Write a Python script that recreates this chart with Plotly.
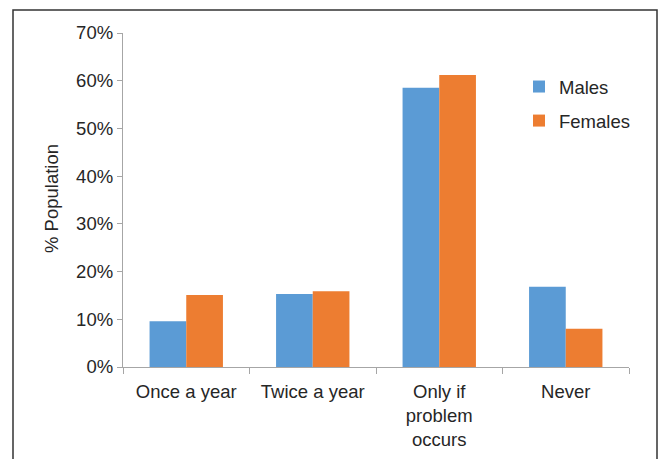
import plotly.graph_objects as go

# Survey: how often people get a check-up, by sex
categories = ["Once a year", "Twice a year", "Only if<br>problem<br>occurs", "Never"]
males = [9.6, 15.3, 58.5, 16.8]
females = [15.1, 15.9, 61.2, 8.0]
y_ticks = [0, 10, 20, 30, 40, 50, 60, 70]
y_tick_text = [f"{v}%" for v in y_ticks]

BLUE = "#5B9BD5"
ORANGE = "#ED7D31"
TEXT = "#262626"
AXIS = "#A6A6A6"
FONT = "Liberation Sans, Arial, sans-serif"
FS = 18.5

fig = go.Figure()
fig.add_trace(go.Bar(name="Males", x=categories, y=males, marker_color=BLUE,
                     marker_line_width=0, legendgroup="m"))
fig.add_trace(go.Bar(name="Females", x=categories, y=females, marker_color=ORANGE,
                     marker_line_width=0, legendgroup="f"))

W, H = 659, 459
L, R, T, B = 123, 30, 33, 92
pw, ph = W - L - R, H - T - B


def px_x(x):
    return (x - L) / pw


def px_y(y):
    return (H - B - y) / ph


fig.update_layout(
    width=W, height=H,
    margin=dict(l=L, r=R, t=T, b=B, autoexpand=False),
    paper_bgcolor="white", plot_bgcolor="white",
    barmode="group", bargap=0.42, bargroupgap=0,
    font=dict(family=FONT, size=FS, color=TEXT),
    showlegend=True,
    legend=dict(x=px_x(519), y=px_y(68), xanchor="left", yanchor="top",
                font=dict(size=FS, color=TEXT), itemwidth=30,
                tracegroupgap=7, bgcolor="rgba(0,0,0,0)"),
    xaxis=dict(range=[-0.5, 3.5], showline=True, linecolor=AXIS, linewidth=1.3,
               ticks="outside", tickson="boundaries", ticklen=6, tickcolor=AXIS,
               tickwidth=1.3, showgrid=False, zeroline=False,
               ticklabelstandoff=8,
               tickfont=dict(size=FS, color=TEXT)),
    yaxis=dict(range=[0, 70], tickvals=y_ticks, ticktext=y_tick_text, showline=True,
               linecolor=AXIS, linewidth=1.3, ticks="outside", ticklen=5,
               tickcolor=AXIS, tickwidth=1.3, showgrid=False, zeroline=False,
               tickfont=dict(size=FS, color=TEXT)),
)

fig.add_annotation(text="% Population", textangle=-90, xref="paper", yref="paper",
                   x=px_x(51), y=px_y(199), xanchor="center", yanchor="middle",
                   showarrow=False, font=dict(size=FS, color=TEXT))

# Outer frame around the chart
fig.add_shape(type="rect", xref="paper", yref="paper",
              x0=px_x(13), x1=px_x(657), y0=px_y(480), y1=px_y(10),
              line=dict(color="#333333", width=1.5), fillcolor="rgba(0,0,0,0)",
              layer="below")

fig.write_html("out.html")
